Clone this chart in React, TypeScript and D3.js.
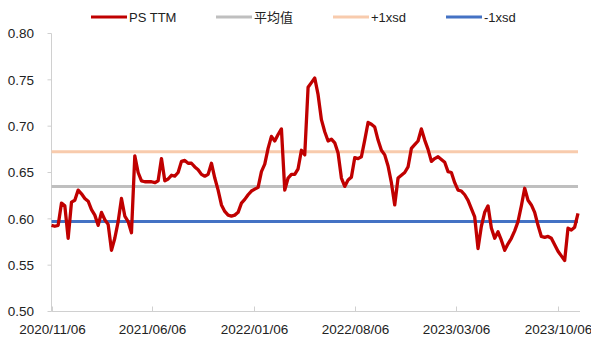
import React from "react";
import * as d3 from "d3";

// PS TTM, weekly (every Friday) starting 2020/11/06
const startDate = "2020/11/06";
const psTTM = [
  0.593, 0.592, 0.593, 0.617, 0.614, 0.579, 0.618, 0.62, 0.631, 0.627,
  0.622, 0.619, 0.61, 0.604, 0.593, 0.607, 0.599, 0.594, 0.566, 0.579,
  0.597, 0.622, 0.603, 0.597, 0.585, 0.668, 0.65, 0.641, 0.64, 0.64,
  0.64, 0.639, 0.641, 0.665, 0.641, 0.643, 0.647, 0.646, 0.65, 0.662,
  0.663, 0.66, 0.66, 0.656, 0.653, 0.648, 0.646, 0.648, 0.66, 0.644,
  0.631, 0.615, 0.608, 0.604, 0.603, 0.604, 0.607, 0.617, 0.621, 0.626,
  0.63, 0.632, 0.634, 0.651, 0.659, 0.676, 0.689, 0.684, 0.691, 0.697,
  0.631, 0.644, 0.648, 0.648, 0.654, 0.674, 0.669, 0.742, 0.747, 0.752,
  0.734, 0.707, 0.694, 0.684, 0.686, 0.682, 0.671, 0.644, 0.635, 0.642,
  0.645, 0.666, 0.665, 0.667, 0.685, 0.704, 0.702, 0.699, 0.685, 0.674,
  0.669, 0.657, 0.639, 0.615, 0.644, 0.647, 0.65, 0.656, 0.676, 0.68,
  0.684, 0.697, 0.685, 0.675, 0.662, 0.665, 0.667, 0.664, 0.661, 0.651,
  0.65, 0.639, 0.631, 0.63, 0.626, 0.62, 0.611, 0.602, 0.568, 0.592,
  0.607, 0.614, 0.59, 0.579, 0.586, 0.577, 0.566, 0.573, 0.579, 0.587,
  0.597, 0.614, 0.633, 0.62, 0.615, 0.607, 0.593, 0.581, 0.58, 0.581,
  0.579, 0.572, 0.565, 0.56, 0.555, 0.59, 0.588, 0.591, 0.606,
];
const meanValue = 0.635;
const plus1sd = 0.6725;
const minus1sd = 0.597;

const xTickLabels = [
  "2020/11/06",
  "2021/06/06",
  "2022/01/06",
  "2022/08/06",
  "2023/03/06",
  "2023/10/06",
];
const yTicks = [0.5, 0.55, 0.6, 0.65, 0.7, 0.75, 0.8];

const legendItems = [
  { name: "PS TTM", color: "#C00000" },
  { name: "平均值", color: "#BFBFBF" },
  { name: "+1xsd", color: "#F8CBAD" },
  { name: "-1xsd", color: "#4472C4" },
];

const W = 591;
const H = 341;
const FONT = '"Liberation Sans", Arial, "Noto Sans CJK SC", sans-serif';

export default function App() {
  const parse = d3.timeParse("%Y/%m/%d");
  const start = parse(startDate) as Date;
  const data = psTTM.map((v, i) => ({ date: d3.timeWeek.offset(start, i), v }));
  const end = data[data.length - 1].date;

  const x = d3.scaleTime().domain([start, end]).range([51.5, 578]);
  const y = d3.scaleLinear().domain([0.5, 0.8]).range([311.5, 33.5]);

  const line = d3
    .line<{ date: Date; v: number }>()
    .x((d) => x(d.date))
    .y((d) => y(d.v));

  const refLines = [
    { v: meanValue, color: "#BFBFBF" },
    { v: plus1sd, color: "#F8CBAD" },
    { v: minus1sd, color: "#4472C4" },
  ];
  const legendX = [91, 216, 333, 446];

  return (
    <svg
      width={W}
      height={H}
      style={{ position: "absolute", left: 0, top: 0, background: "#fff" }}
      fontFamily={FONT}
    >
      {/* legend */}
      {legendItems.map((d, i) => (
        <g key={d.name}>
          <line
            x1={legendX[i]}
            x2={legendX[i] + 36}
            y1={17}
            y2={17}
            stroke={d.color}
            strokeWidth={3}
          />
          <text
            x={legendX[i] + 38}
            y={17}
            dy="0.35em"
            fontSize={13}
            fill="#222"
          >
            {d.name}
          </text>
        </g>
      ))}

      {/* y axis */}
      <line x1={51.5} x2={51.5} y1={y(0.8)} y2={y(0.5)} stroke="#D0D0D0" strokeWidth={1} />
      {yTicks.map((t) => (
        <g key={t}>
          <line x1={47.5} x2={51.5} y1={y(t)} y2={y(t)} stroke="#D0D0D0" />
          <text
            x={34}
            y={y(t)}
            dy="0.35em"
            textAnchor="end"
            fontSize={13.5}
            fill="#222"
          >
            {t.toFixed(2)}
          </text>
        </g>
      ))}

      {/* x axis */}
      <line x1={51.5} x2={580} y1={311.5} y2={311.5} stroke="#D0D0D0" strokeWidth={1} />
      {xTickLabels.map((s) => {
        const xx = Math.round(x(parse(s) as Date)) + 0.5;
        return (
          <g key={s}>
            <line x1={xx} x2={xx} y1={311.5} y2={306.5} stroke="#D0D0D0" />
            <text x={xx} y={329} dy="0.35em" textAnchor="middle" fontSize={13.5} fill="#222">
              {s}
            </text>
          </g>
        );
      })}

      {/* reference lines */}
      {refLines.map((r) => (
        <line
          key={r.color}
          x1={51.5}
          x2={578}
          y1={y(r.v)}
          y2={y(r.v)}
          stroke={r.color}
          strokeWidth={3}
        />
      ))}

      {/* series */}
      <path
        d={line(data) || ""}
        fill="none"
        stroke="#C00000"
        strokeWidth={3.3}
        strokeLinejoin="round"
      />
    </svg>
  );
}
